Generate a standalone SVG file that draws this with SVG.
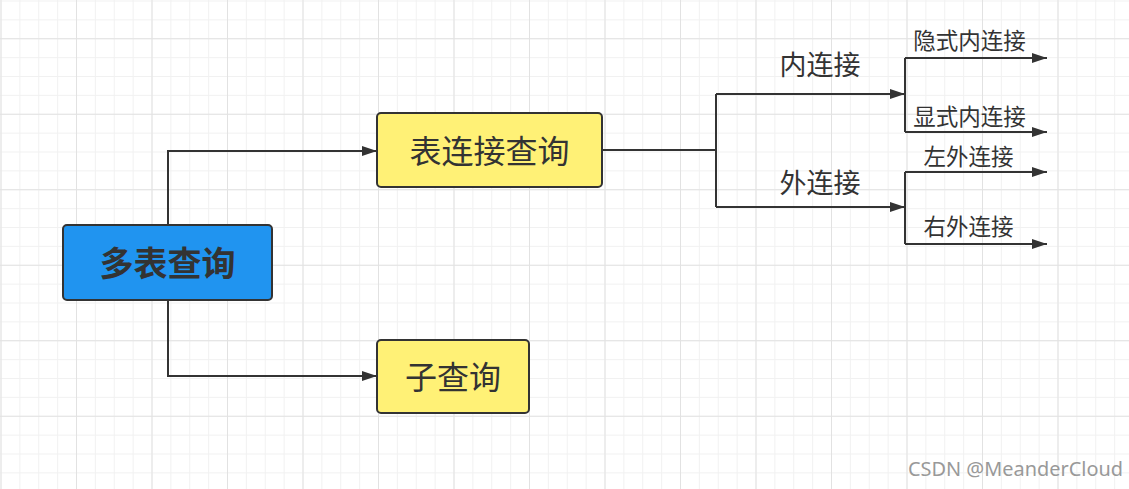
<svg xmlns="http://www.w3.org/2000/svg" width="1129" height="489" viewBox="0 0 1129 489">
<style>
.node rect{stroke:#333;stroke-width:2}
.t{font-family:"Noto Sans CJK SC","Microsoft YaHei",sans-serif;fill:#333;text-anchor:middle;dominant-baseline:central}
.c path{fill:none;stroke:#333;stroke-width:2}
</style>
<defs>
<pattern id="minor" patternUnits="userSpaceOnUse" x="0.5" y="0.5" width="18.875" height="18.875">
<path d="M0.5 0V18.875M0 0.5H18.875" stroke="#f1f1f1" stroke-width="1" fill="none"/>
</pattern>
<pattern id="majV" patternUnits="userSpaceOnUse" x="0.5" y="0" width="75.5" height="20">
<path d="M0.5 0V20" stroke="#e2e2e2" stroke-width="1" fill="none"/>
</pattern>
<pattern id="majH" patternUnits="userSpaceOnUse" x="0" y="38.25" width="20" height="75.5">
<path d="M0 0.5H20" stroke="#e2e2e2" stroke-width="1" fill="none"/>
</pattern>
<marker id="arr" markerUnits="userSpaceOnUse" markerWidth="15" markerHeight="10" refX="15" refY="5" orient="auto">
<path d="M0 0L15 5L0 10z" fill="#333"/>
</marker>
</defs>
<rect width="1129" height="489" fill="#fff"/>
<rect width="1129" height="489" fill="url(#minor)"/>
<rect width="1129" height="489" fill="url(#majV)"/>
<rect width="1129" height="489" fill="url(#majH)"/>
<g id="connectors" class="c">
<path d="M168 225V151H377" marker-end="url(#arr)"/>
<path d="M168 300V376H377" marker-end="url(#arr)"/>
<path d="M602 150H716"/>
<path d="M716 94V207"/>
<path d="M716 94H905" marker-end="url(#arr)"/>
<path d="M716 207H905" marker-end="url(#arr)"/>
<path d="M905 58V132"/>
<path d="M905 58H1047" marker-end="url(#arr)"/>
<path d="M905 132H1047" marker-end="url(#arr)"/>
<path d="M905 172V244"/>
<path d="M905 172H1047" marker-end="url(#arr)"/>
<path d="M905 244H1047" marker-end="url(#arr)"/>
</g>
<g id="node-multi" class="node">
<rect x="63" y="225" width="209" height="75" rx="4" fill="#2094F0"/>
<text class="t" x="167.5" y="261" font-size="34" font-weight="bold">多表查询</text>
</g>
<g id="node-join" class="node">
<rect x="377" y="113" width="225" height="74" rx="4" fill="#FFF176"/>
<text class="t" x="489.5" y="149" font-size="32">表连接查询</text>
</g>
<g id="node-sub" class="node">
<rect x="377" y="340" width="152" height="73" rx="4" fill="#FFF176"/>
<text class="t" x="453" y="375" font-size="32">子查询</text>
</g>
<g id="label-inner">
<text class="t" x="820" y="63" font-size="27">内连接</text>
</g>
<g id="label-outer">
<text class="t" x="820" y="181" font-size="27">外连接</text>
</g>
<g id="label-implicit">
<text class="t" x="969.5" y="38.5" font-size="22.5">隐式内连接</text>
</g>
<g id="label-explicit">
<text class="t" x="969.5" y="114.5" font-size="22.5">显式内连接</text>
</g>
<g id="label-left">
<text class="t" x="968.5" y="154.5" font-size="22.5">左外连接</text>
</g>
<g id="label-right">
<text class="t" x="968.5" y="224.5" font-size="22.5">右外连接</text>
</g>
<text x="908" y="476" font-family="'Noto Sans','Liberation Sans',sans-serif" font-size="19" fill="#999" textLength="215" lengthAdjust="spacingAndGlyphs">CSDN @MeanderCloud</text>
</svg>
